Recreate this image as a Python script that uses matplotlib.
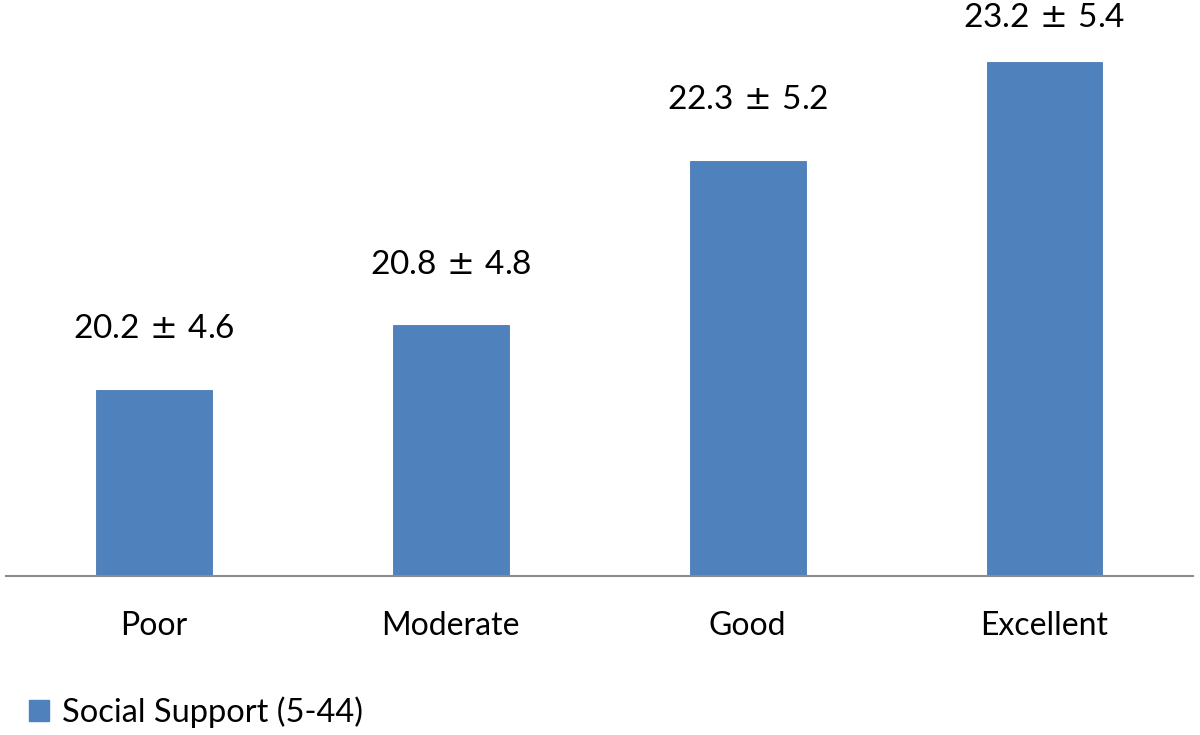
import matplotlib
matplotlib.use("Agg")
import matplotlib.pyplot as plt
from matplotlib.patches import Patch

categories = ["Poor", "Moderate", "Good", "Excellent"]
means = [20.2, 20.8, 22.3, 23.2]
sds = [4.6, 4.8, 5.2, 5.4]
series_name = "Social Support (5-44)"

plt.rcParams['font.family'] = ['Lato', 'DejaVu Sans']

fig = plt.figure(figsize=(12, 7.35), dpi=100)
ax = fig.add_axes([0.0046, 1 - 576 / 735, 0.9895, 576 / 735])

color = "#4F81BD"
x = list(range(len(categories)))
ax.bar(x, means, width=0.39, color=color, edgecolor="#4A7AB5", linewidth=0.6, zorder=2)
ax.set_ylim(18.5, 23.77)
ax.set_xlim(-0.5, len(categories) - 0.5)

label_offsets = [61, 60, 61, 44]  # pixels above bar top
for xi, m, s, off in zip(x, means, sds, label_offsets):
    ax.annotate(f"{m:.1f}$\\hspace{{0.12}}\\pm\\hspace{{0.12}}${s:.1f}", xy=(xi, m),
                xytext=(0, off * 0.72),
                textcoords="offset points", ha="center", va="center",
                fontsize=24, color="black", annotation_clip=False)

for sp in ["top", "right", "left"]:
    ax.spines[sp].set_visible(False)
ax.spines["bottom"].set_color("#8C8C8C")
ax.spines["bottom"].set_linewidth(1.5)
ax.set_yticks([])
ax.set_xticks(x)
ax.set_xticklabels(categories, fontsize=23)
ax.tick_params(axis="x", length=0, pad=25)

fig.legend(handles=[Patch(facecolor=color, edgecolor=color)], labels=[series_name],
           loc="center left", bbox_to_anchor=(0.0, 1 - 712 / 735), frameon=False,
           fontsize=23.5, handlelength=0.6, handleheight=0.6, handletextpad=0.4)

fig.savefig("out.png", dpi=100)
